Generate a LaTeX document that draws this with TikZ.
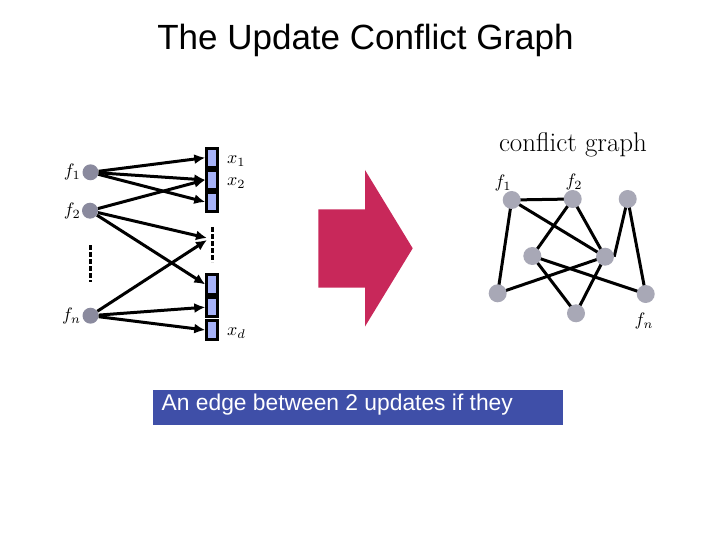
\documentclass[tikz,border=0pt]{standalone}
\usepackage{graphicx}
\usepackage{fontspec}
\setsansfont{Liberation Sans}
\usetikzlibrary{arrows.meta,backgrounds}
\definecolor{leftdot}{RGB}{138,138,158}
\definecolor{rightdot}{RGB}{168,168,182}
\definecolor{cellblue}{RGB}{166,178,248}
\definecolor{bigarrow}{RGB}{200,40,90}
\definecolor{boxblue}{RGB}{63,79,168}
\newcommand{\biglab}[1]{\scalebox{1.8}{$#1$}}
\tikzset{
  ldot/.style={circle,fill=leftdot,minimum size=16pt,inner sep=0pt},
  rdot/.style={circle,fill=rightdot,minimum size=18pt,inner sep=0pt},
  cell/.style={draw=black,line width=3pt,fill=cellblue,minimum width=11pt,minimum height=19.3pt,inner sep=0pt},
  arr/.style={line width=3pt,-{Latex[length=11pt,width=10pt]}},
  gedge/.style={line width=3pt},
  dashv/.style={line width=2.5pt,dash pattern=on 5pt off 2pt},
  mlabel/.style={inner sep=0pt},
}
\begin{document}
\begin{tikzpicture}[x=1pt,y=-1pt]
\useasboundingbox (0,0) rectangle (720,540);
% title
\node[anchor=base,inner sep=0pt,font=\sffamily\fontsize{35}{40}\selectfont] (title) at (365.5,50) {The Update Conflict Graph};
% left part
\node[ldot] (f1) at (90.5,172.3) {};
\node[ldot] (f2) at (90,210.7) {};
\node[ldot] (fn) at (90.5,315.7) {};
\node[mlabel,anchor=east] (lf1) at (81,172.5) {\biglab{f_1}};
\node[mlabel,anchor=east] (lf2) at (81,211) {\biglab{f_2}};
\node[mlabel,anchor=east] (lfn) at (81,316) {\biglab{f_n}};
\draw[dashv] (90.5,245) -- (90.5,282);
\node[cell] (x1) at (212.3,157.7) {};
\node[cell] (x2) at (212.3,179.9) {};
\node[cell] (x3) at (212.3,202.0) {};
\node[cell] (y1) at (212.3,284.4) {};
\node[cell] (y2) at (212.3,307.2) {};
\node[cell] (y3) at (212.3,330.0) {};
\draw[dashv] (212.7,227) -- (212.7,262);
\coordinate (mida) at (207,238);
\coordinate (midb) at (207,240);
\node[mlabel,anchor=west] (lx1) at (227,161) {\biglab{x_1}};
\node[mlabel,anchor=west] (lx2) at (227,183) {\biglab{x_2}};
\node[mlabel,anchor=west] (lxd) at (227,333) {\biglab{x_d}};
\draw[arr] (f1) -- (x1.west);
\draw[arr] (f1) -- (x2.west);
\draw[arr] (f1) -- (x3.west);
\draw[arr] (f2) -- (x2.west);
\draw[arr] (f2) -- (mida);
\draw[arr] (f2) -- (y1.west);
\draw[arr] (fn) -- (midb);
\draw[arr] (fn) -- (y2.west);
\draw[arr] (fn) -- (y3.west);
% big arrow
\fill[bigarrow] (318.3,209.3) -- (365,209.3) -- (365,170) -- (412.7,248.3) -- (365,326.5) -- (365,287.7) -- (318.3,287.7) -- cycle;
% right graph
\node[inner sep=0pt,font=\fontsize{27}{30}\selectfont] (cg) at (573,145) {conflict graph};
\node[rdot] (g1) at (511.7,200) {};
\node[rdot] (g2) at (572.7,199) {};
\node[rdot] (g3) at (627.7,199) {};
\node[rdot] (g4) at (532.3,256) {};
\node[rdot] (g5) at (605,256.7) {};
\node[rdot] (g6) at (497.7,293.3) {};
\node[rdot] (g7) at (645.7,294) {};
\node[rdot] (g8) at (576,313.3) {};
\begin{scope}[on background layer]
\draw[gedge] (g1.center) -- (g2.center);
\draw[gedge] (g1.center) -- (g6.center);
\draw[gedge] (g1.center) -- (g5.center);
\draw[gedge] (g2.center) -- (g4.center);
\draw[gedge] (g2.center) -- (g5.center);
\draw[gedge] (g3.center) -- (g5.east);
\draw[gedge] (g3.center) -- (g7.center);
\draw[gedge] (g4.center) -- (g8.center);
\draw[gedge] (g4.center) -- (g7.center);
\draw[gedge] (g5.center) -- (g6.center);
\draw[gedge] (g5.center) -- (g8.center);
\end{scope}
\node[mlabel] (lg1) at (503,183) {\biglab{f_1}};
\node[mlabel] (lg2) at (574,182) {\biglab{f_2}};
\node[mlabel] (lg7) at (644,321) {\biglab{f_n}};
% text box
\fill[boxblue] (152.5,389.5) rectangle (562.5,424.5);
\node[anchor=base west,inner sep=0pt,text=white,font=\sffamily\fontsize{22.8}{26}\selectfont] (cap) at (161.5,410.7) {An edge between 2 updates if they};
\end{tikzpicture}
\end{document}
